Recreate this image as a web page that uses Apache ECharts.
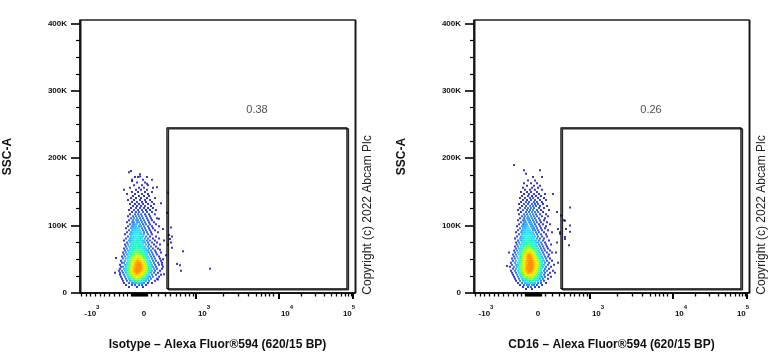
<!DOCTYPE html>
<html><head><meta charset="utf-8">
<script src="https://cdn.jsdelivr.net/npm/echarts@6/dist/echarts.min.js"></script>
<style>html,body{margin:0;padding:0;background:#fff}#c{width:768px;height:360px}</style>
</head><body><div id="c"></div>
<script>
// ---------- text ----------
const panelTitles = ['Isotype \u2013 Alexa Fluor\u00ae594 (620/15 BP)', 'CD16 \u2013 Alexa Fluor\u00ae594 (620/15 BP)'];
const yTitle = 'SSC-A';
const copyrightText = 'Copyright (c) 2022 Abcam Plc';
const gatePct = ['0.38', '0.26'];

// ---------- axes (x = biexponential display channel, y = SSC-A in K) ----------
const xRange = [0, 275];
const yRange = [0, 405];
const yMajorTicks = [0, 100, 200, 300, 400];
const yMinorTicks = [25, 50, 75, 125, 150, 175, 225, 250, 275, 325, 350, 375];
const xLabelPos = [12, 64, 124, 207, 269];
const xLabelBase = ['-10', '0', '10', '10', '10'];
const xLabelExp = ['3', '', '3', '4', '5'];
const xMajorTicks = [116, 199, 272.7];
const xMinorTicks = [1, 6, 10.7, 15, 20, 24.7, 29, 34, 39, 43.7, 47,
  51, 52, 53, 54, 55, 56, 57, 58, 59, 60, 61, 62, 63, 64, 65, 66, 67,
  71.7, 78, 85, 90, 96, 100, 105, 109, 113,
  143, 158, 168, 176, 181, 185, 189, 193,
  221, 235, 244, 251, 256, 261, 265, 268.5, 271];

// ---------- gate ----------
const gateX = [87, 267];
const gateY = [6, 245];
const gateLabelPos = [177, 272];

// ---------- events: rows [SSC-A(K), channel, channel, ...] ----------
const isoRows = [
 [9, 49, 57, 63],
 [12, 46, 52, 55, 59, 62, 66],
 [15, 44, 49, 52, 54, 56, 58, 60, 62, 64, 68, 72],
 [18, 43, 47, 50, 52, 54, 55, 57, 58, 60, 62, 64, 66, 69, 75],
 [21, 42, 46, 49, 51, 53, 54, 55, 57, 58, 59, 61, 62, 64, 66, 68, 71, 77],
 [24, 41, 45, 48, 50, 52, 53, 54, 55, 56, 58, 59, 60, 61, 63, 64, 66, 68, 70, 73, 79],
 [27, 40, 44, 47, 49, 51, 52, 53, 54, 55, 56, 57, 58, 59, 60, 61, 62, 63, 65, 67, 69, 72, 76, 81],
 [30, 40, 43, 46, 48, 50, 51, 52, 53, 54, 55, 56, 57, 58, 59, 60, 61, 62, 63, 64, 65, 67, 69, 71, 74, 78],
 [33, 39, 42, 45, 47, 49, 50, 51, 52, 53, 54, 55, 56, 57, 58, 59, 60, 61, 62, 63, 64, 65, 66, 68, 70, 72, 75, 80],
 [36, 40, 44, 46, 48, 49, 51, 52, 53, 54, 55, 56, 57, 58, 59, 60, 61, 62, 63, 64, 65, 66, 68, 69, 71, 74, 77, 82],
 [39, 41, 43, 46, 48, 50, 51, 52, 53, 54, 55, 56, 57, 58, 59, 60, 61, 62, 63, 64, 65, 66, 67, 69, 71, 73, 76, 83],
 [42, 40, 45, 47, 49, 50, 52, 53, 54, 55, 56, 57, 58, 59, 60, 61, 62, 63, 64, 65, 66, 68, 70, 72, 75, 79],
 [45, 42, 44, 47, 49, 51, 52, 53, 54, 55, 56, 57, 58, 59, 60, 61, 62, 63, 64, 65, 67, 69, 71, 74, 78, 82],
 [48, 41, 45, 48, 50, 51, 53, 54, 55, 56, 57, 58, 59, 60, 61, 62, 63, 64, 66, 68, 70, 73, 76, 81],
 [51, 43, 46, 48, 50, 52, 53, 54, 55, 56, 57, 58, 59, 60, 61, 62, 64, 65, 67, 69, 72, 75, 80],
 [54, 42, 45, 48, 50, 51, 53, 54, 55, 57, 58, 59, 60, 61, 63, 64, 66, 68, 71, 74, 79],
 [57, 44, 47, 49, 51, 52, 54, 55, 56, 58, 59, 60, 62, 63, 65, 67, 70, 73, 77],
 [60, 43, 46, 49, 51, 53, 54, 56, 57, 58, 60, 61, 63, 65, 67, 69, 72, 76, 81],
 [63, 45, 48, 50, 52, 53, 55, 57, 58, 60, 62, 64, 66, 68, 71, 75],
 [66, 44, 47, 50, 52, 54, 55, 57, 59, 60, 62, 64, 66, 69, 73, 78],
 [69, 46, 49, 51, 53, 55, 56, 58, 60, 61, 63, 65, 68, 71, 76],
 [72, 45, 48, 51, 53, 54, 56, 58, 59, 61, 63, 66, 69, 74, 80],
 [75, 47, 50, 52, 54, 56, 57, 59, 61, 63, 65, 68, 72, 77],
 [78, 44, 49, 51, 53, 55, 57, 58, 60, 62, 64, 67, 70, 75],
 [81, 46, 50, 52, 54, 56, 58, 60, 62, 65, 68, 73, 79],
 [84, 48, 51, 53, 55, 57, 59, 61, 63, 66, 70, 76],
 [87, 45, 50, 52, 54, 56, 58, 60, 62, 64, 68, 72],
 [90, 47, 51, 53, 55, 57, 59, 61, 64, 67, 71, 78],
 [93, 49, 52, 54, 56, 58, 60, 63, 66, 70, 75],
 [96, 46, 51, 53, 55, 57, 59, 62, 65, 69, 73],
 [99, 48, 52, 54, 56, 59, 61, 64, 68, 72, 79],
 [102, 50, 53, 55, 57, 60, 63, 66, 70, 76],
 [105, 47, 52, 54, 57, 59, 62, 65, 69, 74],
 [108, 49, 53, 56, 58, 61, 64, 68, 72],
 [111, 51, 54, 57, 60, 63, 67, 71, 77],
 [114, 48, 53, 56, 59, 62, 66, 70],
 [117, 50, 55, 58, 61, 65, 69, 75],
 [120, 52, 56, 59, 63, 67, 72],
 [123, 49, 54, 58, 62, 66, 70, 76],
 [126, 51, 56, 60, 64, 68, 73],
 [129, 53, 57, 61, 65, 71],
 [132, 50, 55, 59, 63, 68, 74],
 [135, 52, 57, 62, 66, 72],
 [138, 48, 54, 60, 65, 70],
 [141, 51, 56, 61, 67, 75],
 [144, 53, 59, 64, 69],
 [147, 47, 55, 62, 68],
 [150, 52, 58, 65, 72],
 [153, 56, 61, 67],
 [156, 50, 59, 64, 73],
 [160, 54, 62, 68],
 [164, 57, 65],
 [168, 52, 63, 72],
 [172, 58, 67],
 [176, 60],
 [181, 51]
];
const isoExtra = [[49,179],[55,172],[60,173],[52,166],[67,162],[44,153],[77,157],[81,133],[88,149],[87,119],
 [91,97],[89,86],[92,84],[84,78],[90,80],[88,72],[91,75],[92,67],[103,62],[83,50],[82,42],[97,43],[100,41],
 [101,33],[130,36],[86,56],[79,110],[83,95],[80,64],[35,30],[36,52],[84,28],[78,20]];

const cd16Rows = [
 [6, 52, 58],
 [9, 49, 54, 57, 61, 65],
 [12, 46, 50, 53, 55, 58, 60, 63, 68],
 [15, 44, 48, 51, 53, 55, 57, 59, 61, 64, 67, 72],
 [18, 42, 46, 49, 51, 53, 55, 56, 58, 60, 62, 64, 67, 70],
 [21, 41, 45, 48, 50, 52, 53, 55, 56, 57, 59, 60, 62, 64, 66, 69, 74],
 [24, 40, 44, 47, 49, 51, 52, 53, 54, 56, 57, 58, 59, 61, 62, 64, 66, 68, 71, 77],
 [27, 39, 43, 46, 48, 49, 50, 52, 53, 54, 55, 56, 57, 58, 59, 60, 61, 63, 65, 67, 70, 74],
 [30, 38, 42, 45, 47, 48, 49, 50, 51, 52, 53, 54, 55, 56, 57, 58, 59, 60, 61, 62, 64, 66, 68, 71, 76],
 [33, 37, 41, 44, 46, 48, 49, 50, 51, 52, 53, 54, 55, 56, 57, 58, 59, 60, 61, 62, 63, 65, 67, 70, 73, 79],
 [36, 39, 42, 45, 47, 48, 49, 50, 51, 52, 53, 54, 55, 56, 57, 58, 59, 60, 61, 62, 63, 64, 66, 68, 71, 75],
 [39, 36, 40, 43, 45, 47, 48, 50, 51, 52, 53, 54, 55, 56, 57, 58, 59, 60, 61, 62, 63, 64, 65, 67, 69, 72, 77],
 [42, 38, 42, 44, 46, 48, 49, 50, 51, 52, 53, 54, 55, 56, 57, 58, 59, 60, 61, 62, 63, 64, 66, 68, 70, 74, 80],
 [45, 37, 41, 44, 46, 47, 49, 50, 51, 52, 53, 54, 55, 56, 57, 58, 59, 60, 61, 62, 63, 65, 66, 68, 71, 75],
 [48, 39, 42, 45, 47, 48, 50, 51, 52, 53, 54, 55, 56, 57, 58, 59, 60, 61, 62, 63, 64, 66, 68, 70, 73, 78],
 [51, 38, 41, 44, 46, 48, 49, 50, 51, 52, 53, 54, 55, 56, 57, 58, 59, 60, 61, 62, 63, 65, 67, 69, 72, 76],
 [54, 40, 43, 46, 47, 49, 50, 51, 52, 53, 54, 55, 56, 57, 58, 59, 60, 61, 62, 64, 66, 68, 71, 74],
 [57, 39, 42, 45, 47, 49, 50, 51, 52, 53, 54, 55, 56, 57, 58, 59, 60, 61, 63, 65, 67, 70, 75],
 [60, 41, 44, 46, 48, 50, 51, 52, 53, 54, 55, 56, 57, 58, 59, 60, 62, 64, 66, 69, 73, 78],
 [63, 40, 43, 46, 48, 49, 51, 52, 53, 54, 55, 56, 57, 58, 60, 61, 63, 65, 68, 71, 76],
 [66, 42, 45, 47, 49, 51, 52, 54, 55, 56, 57, 59, 60, 62, 64, 67, 70, 74],
 [69, 41, 44, 47, 49, 50, 52, 53, 55, 56, 58, 59, 61, 63, 66, 69, 73],
 [72, 43, 46, 48, 50, 52, 53, 55, 57, 58, 60, 62, 65, 68, 72, 77],
 [75, 42, 45, 48, 50, 51, 53, 55, 56, 58, 60, 62, 64, 67, 71],
 [78, 44, 47, 49, 51, 53, 55, 57, 58, 60, 62, 65, 69, 75],
 [81, 41, 46, 48, 50, 52, 54, 56, 58, 60, 63, 66, 70],
 [84, 43, 47, 49, 51, 53, 55, 57, 59, 61, 64, 68, 73],
 [87, 45, 48, 50, 52, 54, 56, 58, 60, 63, 67, 72],
 [90, 42, 47, 49, 51, 53, 55, 57, 59, 62, 65, 70, 78],
 [93, 44, 48, 50, 52, 54, 56, 59, 61, 64, 68, 74],
 [96, 46, 49, 51, 53, 55, 58, 60, 63, 67, 71],
 [99, 43, 48, 50, 52, 54, 57, 59, 62, 66, 72],
 [102, 45, 49, 51, 53, 56, 58, 61, 65, 69, 76],
 [105, 47, 50, 52, 55, 57, 60, 63, 67, 73],
 [108, 44, 49, 51, 54, 56, 59, 62, 66, 70],
 [111, 46, 50, 53, 55, 58, 61, 65, 71],
 [114, 48, 51, 54, 57, 60, 63, 68, 74],
 [117, 45, 50, 53, 56, 59, 62, 66, 72],
 [120, 47, 52, 55, 58, 61, 64, 69],
 [123, 44, 49, 53, 56, 59, 63, 67, 75],
 [126, 46, 51, 54, 57, 60, 65, 70],
 [129, 48, 52, 56, 59, 62, 66, 73],
 [132, 45, 50, 54, 58, 61, 64, 69],
 [135, 47, 52, 55, 60, 63, 68],
 [138, 49, 53, 57, 61, 66, 72],
 [141, 46, 51, 56, 59, 64, 70],
 [144, 48, 54, 58, 62, 67],
 [147, 50, 55, 60, 65, 71],
 [150, 47, 53, 57, 63],
 [153, 51, 56, 61, 68],
 [156, 49, 58, 64],
 [159, 53, 60, 66],
 [163, 50, 57, 63],
 [167, 54, 61],
 [172, 59, 68],
 [177, 52],
 [182, 50, 66]
];
const cd16Extra = [[79,147],[83,120],[84,95],[86,90],[91,107],[96,127],[91,80],[96,100],[95,71],[90,108],
 [92,95],[96,91],[91,83],[87,115],[86,88],[83,75],[40,190],[35,60],[33,40],[82,60],[84,45],[81,30]];

// ---------- layout ----------
const gridLeft = [80, 474];
const gridTop = 20, gridW = 275, gridH = 273;
const copyX = [368, 762], copyY = 215;
const FONT = 'Liberation Sans, Arial, sans-serif';

function toPoints(rows, extra) {
  const pts = [];
  rows.forEach(r => { for (let i = 1; i < r.length; i++) pts.push([r[i], r[0]]); });
  extra.forEach(p => pts.push([p[0], p[1]]));
  return pts;
}
// local event density (neighbours within a few screen pixels), like a pseudocolor dot plot
function withDensity(pts) {
  const sx = gridW / (xRange[1] - xRange[0]);
  const sy = gridH / (yRange[1] - yRange[0]);
  const R = 6, R2 = R * R;
  const out = pts.map(p => {
    let n = 0;
    for (const q of pts) {
      const dx = (p[0] - q[0]) * sx, dy = (p[1] - q[1]) * sy;
      if (dx * dx + dy * dy <= R2) n++;
    }
    return [p[0], p[1], n];
  });
  out.sort((a, b) => a[2] - b[2]);
  return out;
}
const panels = [withDensity(toPoints(isoRows, isoExtra)), withDensity(toPoints(cd16Rows, cd16Extra))];

const grids = [], xAxes = [], yAxes = [], series = [], graphics = [];
for (let g = 0; g < 2; g++) {
  grids.push({left: gridLeft[g], top: gridTop, width: gridW, height: gridH, show: true,
    borderColor: '#222', borderWidth: 1, backgroundColor: '#fff',
    shadowColor: 'rgba(0,0,0,0.9)', shadowOffsetX: 1, shadowOffsetY: 0, shadowBlur: 0});
  xAxes.push({gridIndex: g, type: 'value', min: xRange[0], max: xRange[1], position: 'bottom',
    axisLine: {show: true, onZero: false, lineStyle: {color: '#000', width: 1.5}},
    axisTick: {show: true, customValues: xMinorTicks, length: 3.5, lineStyle: {color: '#000', width: 1.3}},
    axisLabel: {show: true, customValues: xLabelPos, margin: 11,
      formatter: v => { const i = xLabelPos.indexOf(v); return i < 0 ? '' : '{b|' + xLabelBase[i] + '}' + (xLabelExp[i] ? '{s|' + xLabelExp[i] + '}' : ''); },
      rich: {b: {fontSize: 8, fontWeight: 'bold', color: '#111', fontFamily: FONT, lineHeight: 14, verticalAlign: 'bottom'},
             s: {fontSize: 6, fontWeight: 'bold', color: '#111', fontFamily: FONT, lineHeight: 14, verticalAlign: 'top'}}},
    splitLine: {show: false},
    name: panelTitles[g], nameLocation: 'middle', nameGap: 46,
    nameTextStyle: {fontSize: 12, fontWeight: 'bold', color: '#111', fontFamily: FONT}});
  xAxes.push({gridIndex: g, type: 'value', min: xRange[0], max: xRange[1], position: 'bottom',
    axisLine: {show: false}, axisLabel: {show: false}, splitLine: {show: false},
    axisTick: {show: true, customValues: xMajorTicks, length: 6, lineStyle: {color: '#000', width: 2}}});
  yAxes.push({gridIndex: g, type: 'value', min: yRange[0], max: yRange[1], position: 'left',
    axisLine: {show: true, onZero: false, lineStyle: {color: '#000', width: 1.5}},
    axisTick: {show: true, customValues: yMajorTicks, length: 9, lineStyle: {color: '#000', width: 1.6}},
    axisLabel: {show: true, customValues: yMajorTicks, margin: 13, fontSize: 8, fontWeight: 'bold',
      color: '#111', fontFamily: FONT, formatter: v => v === 0 ? '0' : v + 'K'},
    splitLine: {show: false},
    name: yTitle, nameLocation: 'middle', nameGap: 66,
    nameTextStyle: {fontSize: 12, fontWeight: 'bold', color: '#111', fontFamily: FONT}});
  yAxes.push({gridIndex: g, type: 'value', min: yRange[0], max: yRange[1], position: 'left',
    axisLine: {show: false}, axisLabel: {show: false}, splitLine: {show: false},
    axisTick: {show: true, customValues: yMinorTicks, length: 4, lineStyle: {color: '#000', width: 1.2}}});
  graphics.push({type: 'text', x: copyX[g], y: copyY, rotation: Math.PI / 2,
    style: {text: copyrightText, fontSize: 12, fontFamily: FONT, fill: '#222', align: 'center', verticalAlign: 'middle'}});
}
for (let g = 0; g < 2; g++) {
  series.push({type: 'scatter', xAxisIndex: 2 * g, yAxisIndex: 2 * g, data: panels[g],
    symbol: 'rect', symbolSize: 2, animation: false, silent: true, z: 2});
}
for (let g = 0; g < 2; g++) {
  series.push({type: 'line', xAxisIndex: 2 * g, yAxisIndex: 2 * g,
    data: [[gateX[0], gateY[0]], [gateX[1], gateY[0]], [gateX[1], gateY[1]], [gateX[0], gateY[1]], [gateX[0], gateY[0]]],
    symbol: 'none', animation: false, silent: true, z: 3,
    lineStyle: {color: '#000', width: 1.3, shadowColor: 'rgba(0,0,0,0.85)', shadowOffsetX: 1.5, shadowOffsetY: 1, shadowBlur: 0}});
  series.push({type: 'scatter', xAxisIndex: 2 * g, yAxisIndex: 2 * g, data: [gateLabelPos],
    symbolSize: 1, itemStyle: {color: 'rgba(0,0,0,0)'}, animation: false, silent: true, z: 4,
    label: {show: true, position: 'inside', formatter: gatePct[g], fontSize: 11, color: '#222', fontFamily: FONT}});
}

const chart = echarts.init(document.getElementById('c'), null, {renderer: 'canvas'});
chart.setOption({
  animation: false,
  textStyle: {fontFamily: FONT},
  grid: grids, xAxis: xAxes, yAxis: yAxes,
  visualMap: {type: 'continuous', show: false, dimension: 2, seriesIndex: [0, 1], min: 3, max: 60,
    inRange: {color: ['#0a0a96', '#0000ff', '#0066ff', '#00ccff', '#00ff99', '#99ff00', '#ffee00', '#ff8800', '#ff0000']}},
  series: series,
  graphic: graphics
});
</script></body></html>
